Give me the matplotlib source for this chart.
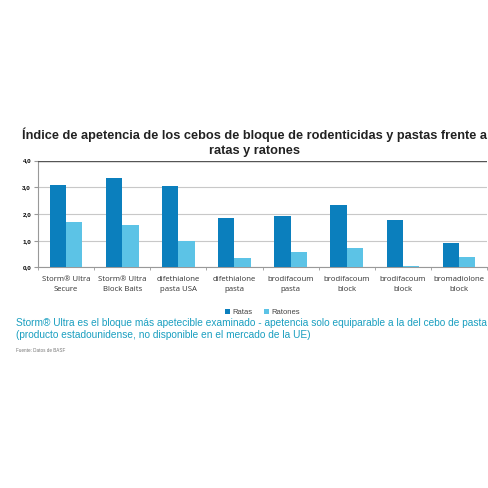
import numpy as np
import matplotlib
matplotlib.use("Agg")
import matplotlib.pyplot as plt

categories = ["Storm® Ultra\nSecure", "Storm® Ultra\nBlock Baits", "difethialone\npasta USA",
              "difethialone\npasta", "brodifacoum\npasta", "brodifacoum\nblock",
              "brodifacoum\nblock", "bromadiolone\nblock"]
ratas = [3.09, 3.33, 3.03, 1.84, 1.93, 2.32, 1.78, 0.92]
ratones = [1.69, 1.57, 0.98, 0.36, 0.58, 0.73, 0.05, 0.38]
yticks = [0, 1, 2, 3, 4]
ytick_labels = ["0,0", "1,0", "2,0", "3,0", "4,0"]

c_ratas = "#0b7fbd"
c_ratones = "#5cc3e6"

fig = plt.figure(figsize=(4.88, 4.88), dpi=100)
ax = fig.add_axes([0.078, 0.452, 0.92, 0.219])

x = np.arange(len(categories))
w = 0.29
ax.bar(x - w / 2, ratas, w, color=c_ratas, label="Ratas", zorder=3)
ax.bar(x + w / 2, ratones, w, color=c_ratones, label="Ratones", zorder=3)

ax.set_ylim(0, 4)
ax.set_xlim(-0.5, len(categories) - 0.5)
ax.set_yticks(yticks)
ax.set_yticklabels(ytick_labels, fontsize=4.5, fontweight="bold", family="Liberation Sans")
ax.yaxis.grid(True, color="#c8c8c8", linewidth=0.8, zorder=0)
ax.set_xticks(x)
ax.set_xticklabels(categories, fontsize=5.6, family="Open Sans", color="#333333", linespacing=1.55)
ax.set_xticks(np.arange(len(categories) + 1) - 0.5, minor=True)
ax.tick_params(axis="x", which="major", length=0, pad=6.5)
ax.tick_params(axis="x", which="minor", length=2, color="#999999")
ax.tick_params(axis="y", length=3, color="#999999", pad=2)
for s in ["right", "top"]:
    ax.spines[s].set_visible(False)
ax.spines["left"].set_color("#999999")
ax.spines["bottom"].set_color("#999999")
ax.axhline(4, color="#555555", linewidth=1.0, zorder=4)

fig.text(0.522, 0.709, "Índice de apetencia de los cebos de bloque de rodenticidas y pastas frente a\nratas y ratones",
         ha="center", va="center", fontsize=9.2, fontweight="bold", family="Liberation Sans",
         color="#222222", linespacing=1.3)

ax.legend(loc="center", bbox_to_anchor=(0.5, -0.42), ncol=2, frameon=False,
          handlelength=0.7, handleheight=0.7, handletextpad=0.3,
          columnspacing=1.5, prop={"family": "Liberation Sans", "size": 5.5},
          labelcolor="#444444")

fig.text(0.033, 0.326, "Storm® Ultra es el bloque más apetecible examinado - apetencia solo equiparable a la del cebo de pasta\n(producto estadounidense, no disponible en el mercado de la UE)",
         ha="left", va="center", fontsize=7.3, family="Liberation Sans", color="#1a9fc0",
         linespacing=1.3)
fig.text(0.033, 0.281, "Fuente: Datos de BASF", ha="left", va="center", fontsize=3.3,
         family="Liberation Sans", color="#777777")

fig.savefig("out.png", dpi=100)
